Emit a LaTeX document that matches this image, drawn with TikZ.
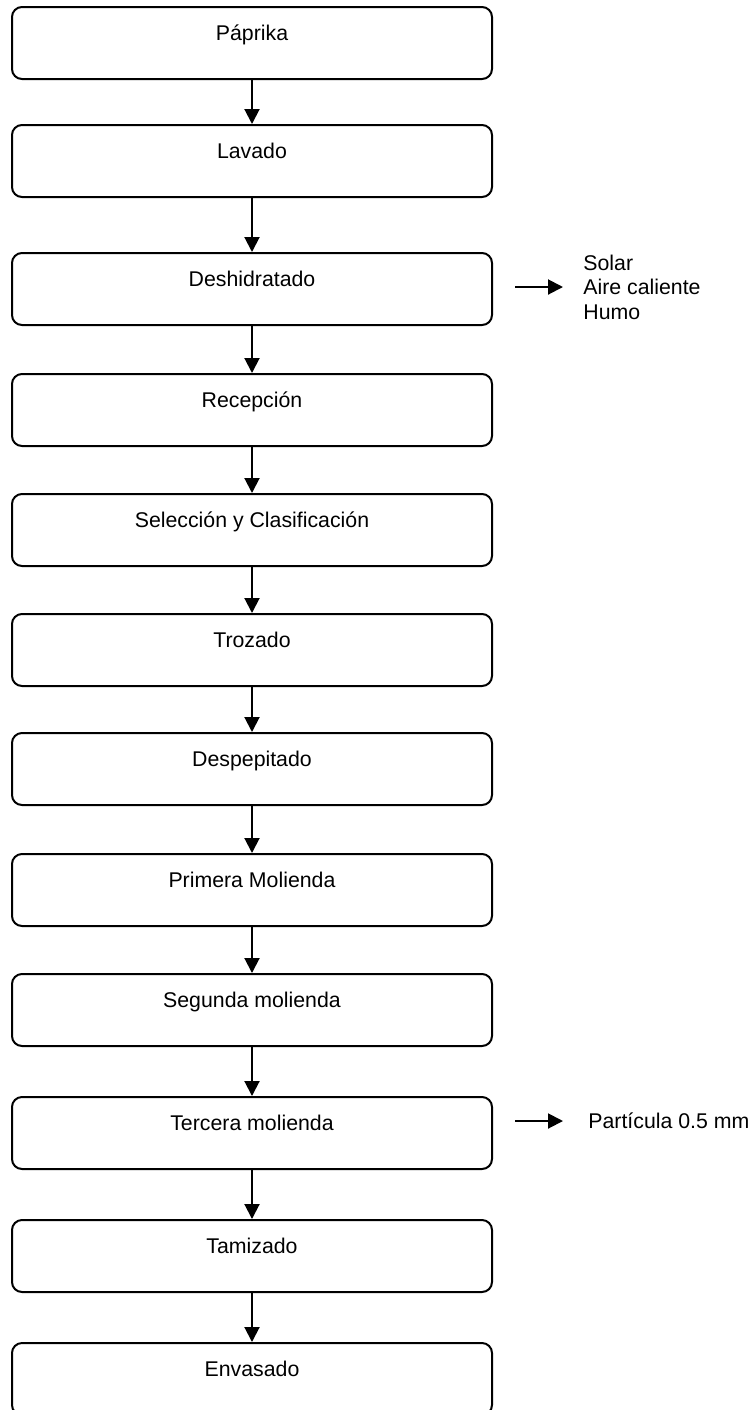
\documentclass[tikz,border=0pt]{standalone}
\usepackage{fontspec}
\setmainfont{Liberation Sans}
\usetikzlibrary{arrows.meta}
\tikzset{
  stepbox/.style={draw=black, line width=1pt, rounded corners=5pt, fill=white,
    minimum width=240pt, inner xsep=0pt, inner ysep=0pt,
    text height=16.85pt, text depth=19.15pt},
  flow/.style={-{Triangle[length=7.5pt,width=7.5pt]}, line width=1pt},
  note/.style={align=left, anchor=west, inner ysep=0pt}
}

\begin{document}
\begin{tikzpicture}[x=0.5pt, y=-0.5pt, font=\fontsize{10.65}{12.25}\selectfont]
  \useasboundingbox (0,0) rectangle (753,1410);

  % process steps
  \foreach \name/\ypos/\label in {paprika/43/Páprika, lavado/161/Lavado,
      deshidratado/289/Deshidratado, recepcion/410/Recepción,
      seleccion/530/Selección y Clasificación, trozado/650/Trozado,
      despepitado/769/Despepitado, primera/890/Primera Molienda,
      segunda/1010/Segunda molienda, tercera/1133/Tercera molienda,
      tamizado/1256/Tamizado, envasado/1379/Envasado} {
    \node[stepbox] (\name) at (252,\ypos) {\label};
  }

  \foreach \from/\to in {paprika/lavado, lavado/deshidratado,
      deshidratado/recepcion, recepcion/seleccion, seleccion/trozado,
      trozado/despepitado, despepitado/primera, primera/segunda,
      segunda/tercera, tercera/tamizado, tamizado/envasado}
    \draw[flow] (\from) -- (\to);

  % side notes
  \coordinate (deshout) at (515,287);
  \node[note, inner xsep=10pt] (medios) at (563,287) {Solar\\Aire caliente\\Humo};
  \draw[flow] (deshout) -- (medios.west);

  \coordinate (tercout) at (515,1121);
  \node[note, inner xsep=12.5pt] (particula) at (563,1121) {Partícula 0.5 mm};
  \draw[flow] (tercout) -- (particula.west);
\end{tikzpicture}
\end{document}
